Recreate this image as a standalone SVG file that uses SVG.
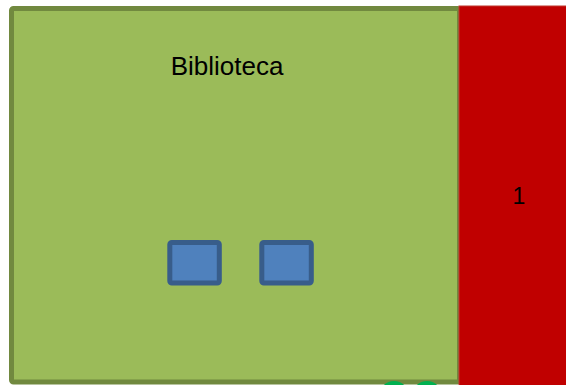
<svg xmlns="http://www.w3.org/2000/svg" width="566" height="385" viewBox="0 0 566 385">
<style>
.lbl{font-family:"Liberation Sans",Arial,sans-serif;fill:#000}
.desk{fill:#4F81BD;stroke:#385D8A;stroke-width:5}
.dot{fill:#00B050}
</style>
<rect width="566" height="385" fill="#fff"/>
<g id="biblioteca">
<rect x="11.5" y="8.5" width="448" height="373.5" rx="2" fill="#9BBB59" stroke="#71893F" stroke-width="5"/>
<text class="lbl" x="227" y="75" font-size="26" text-anchor="middle">Biblioteca</text>
</g>
<g id="zone1">
<rect x="459" y="6" width="110" height="382" fill="#C00000" stroke="#C0392F" stroke-width="1"/>
<text class="lbl" x="519" y="204" font-size="23" text-anchor="middle">1</text>
</g>
<g id="desk1"><rect class="desk" x="169.8" y="242.5" width="49.5" height="40.5" rx="2"/></g>
<g id="desk2"><rect class="desk" x="261.8" y="242.5" width="49.5" height="40.5" rx="2"/></g>
<g id="dot1"><circle class="dot" cx="394" cy="396" r="15"/></g>
<g id="dot2"><circle class="dot" cx="427" cy="396" r="15"/></g>
<g id="connectors"/>
</svg>
